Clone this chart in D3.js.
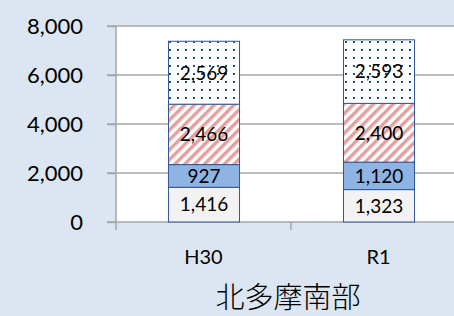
<!DOCTYPE html>
<html><head><meta charset="utf-8">
<script src="https://cdn.jsdelivr.net/npm/d3@7/dist/d3.min.js"></script>
<style>body{margin:0;background:#dce6f2;}svg{display:block;}</style>
</head><body><svg id="c" width="454" height="316"></svg>
<script>
const categories = ["H30", "R1"];
const seriesNames = ["s1", "s2", "s3", "s4"];
const seriesH30 = [1416, 927, 2466, 2569];
const seriesR1 = [1323, 1120, 2400, 2593];
const yTicks = [0, 2000, 4000, 6000, 8000];
const title = "北多摩南部";

const W = 454, H = 316;
const svg = d3.select("#c");
svg.append("rect").attr("width", W).attr("height", H).attr("fill", "#dce6f2");

const defs = svg.append("defs");
const hatch = defs.append("pattern").attr("id", "hatch").attr("patternUnits", "userSpaceOnUse")
  .attr("width", 7).attr("height", 7).attr("patternTransform", "rotate(45)");
hatch.append("rect").attr("width", 7).attr("height", 7).attr("fill", "#fff");
hatch.append("rect").attr("width", 3.5).attr("height", 7).attr("fill", "#e3a0a0");
const dots = defs.append("pattern").attr("id", "dots").attr("patternUnits", "userSpaceOnUse")
  .attr("width", 8).attr("height", 8).attr("x", 1).attr("y", 1);
dots.append("rect").attr("width", 8).attr("height", 8).attr("fill", "#fff");
dots.append("rect").attr("x", 0).attr("y", 0).attr("width", 2).attr("height", 2).attr("fill", "#1f4e8c");

const fills = ["#f2f2f2", "#8eb4e3", "url(#hatch)", "url(#dots)"];

const x = d3.scaleBand().domain(categories).range([116, 466]).paddingInner(0.594).paddingOuter(0.297);
const y = d3.scaleLinear().domain([0, 8000]).range([222, 26]);

// plot area
svg.append("rect").attr("x", 116).attr("y", y(8000)).attr("width", W - 116).attr("height", y(0) - y(8000)).attr("fill", "#fff");

// grid
svg.append("g").selectAll("line").data(yTicks.filter(d => d > 0)).join("line")
  .attr("x1", 107).attr("x2", W).attr("y1", d => y(d)).attr("y2", d => y(d))
  .attr("stroke", "#a6a6a6").attr("stroke-width", 1.5);

// y axis
const yAxis = d3.axisLeft(y).tickValues(yTicks).tickFormat(d3.format(",")).tickSize(9).tickPadding(24);
const ya = svg.append("g").attr("transform", "translate(116,0)").call(yAxis);
ya.select(".domain").remove();
ya.selectAll(".tick line").attr("stroke", "#a6a6a6").attr("stroke-width", 1.5);
ya.selectAll(".tick text").attr("font-family", "Lato").attr("font-size", 22).attr("fill", "#000").attr("dy", "0.36em");
svg.append("line").attr("x1", 116).attr("x2", 116).attr("y1", y(8000)).attr("y2", 230).attr("stroke", "#a6a6a6").attr("stroke-width", 1.5);

// x axis
svg.append("line").attr("x1", 107).attr("x2", W).attr("y1", y(0)).attr("y2", y(0)).attr("stroke", "#a6a6a6").attr("stroke-width", 1.5);
const step = x.step();
svg.append("g").selectAll("line").data(categories).join("line")
  .attr("x1", d => x(d) + x.bandwidth() / 2 + step / 2).attr("x2", d => x(d) + x.bandwidth() / 2 + step / 2)
  .attr("y1", y(0)).attr("y2", 230).attr("stroke", "#a6a6a6").attr("stroke-width", 1.5);
svg.append("g").selectAll("text").data(categories).join("text")
  .attr("x", d => x(d) + x.bandwidth() / 2).attr("y", 257).attr("dy", "0.36em")
  .attr("text-anchor", "middle").attr("font-family", "Lato").attr("font-size", 20).text(d => d);

// bars
const table = categories.map((c, i) => {
  const vals = i === 0 ? seriesH30 : seriesR1;
  const o = { cat: c };
  seriesNames.forEach((s, j) => o[s] = vals[j]);
  return o;
});
const stacked = d3.stack().keys(seriesNames)(table);
const g = svg.append("g");
stacked.forEach((layer, li) => {
  g.selectAll(null).data(layer).join("rect")
    .attr("x", d => x(d.data.cat) + 0.5).attr("width", x.bandwidth())
    .attr("y", d => y(d[1])).attr("height", d => y(d[0]) - y(d[1]))
    .attr("fill", fills[li]).attr("stroke", "#2f5597").attr("stroke-width", 1);
  g.selectAll(null).data(layer).join("text")
    .attr("x", d => x(d.data.cat) + x.bandwidth() / 2 + 0.5).attr("y", d => (y(d[0]) + y(d[1])) / 2)
    .attr("dy", "0.36em").attr("text-anchor", "middle").attr("font-family", "Lato").attr("font-size", 19)
    .attr("fill", "#000").text(d => d3.format(",")(d[1] - d[0]));
});

svg.append("text").attr("x", 288).attr("y", 308).attr("text-anchor", "middle")
  .attr("font-family", "Noto Sans CJK JP").attr("font-weight", 300).attr("font-size", 29).attr("fill", "#000").text(title);
</script></body></html>
